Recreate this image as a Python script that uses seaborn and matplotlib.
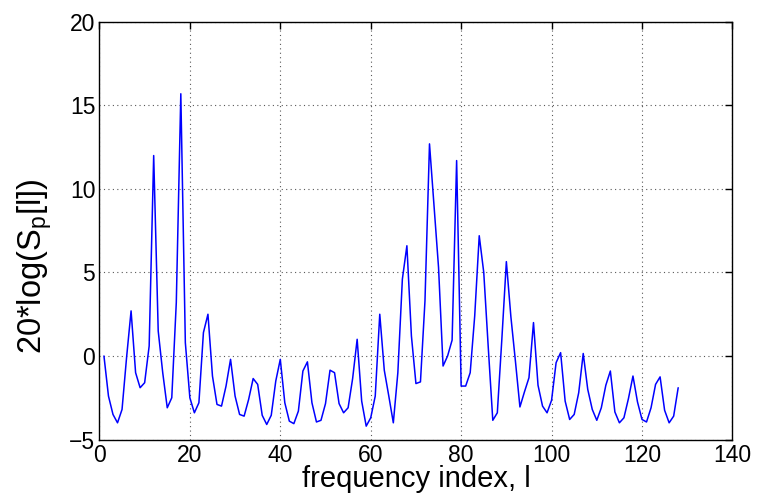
import matplotlib
matplotlib.use("Agg")
import matplotlib.pyplot as plt
import seaborn as sns
import numpy as np
import pandas as pd

freq_index = list(range(1, 129))
level_db = [
    0.0, -2.4, -3.5, -4.0, -3.2, -0.1, 2.7, -1.0, -1.9, -1.6,
    0.6, 12.0, 1.5, -1.0, -3.1, -2.5, 3.2, 15.7, 0.8, -2.5,
    -3.4, -2.8, 1.4, 2.5, -1.2, -2.9, -3.0, -1.8, -0.2, -2.4,
    -3.5, -3.6, -2.6, -1.35, -1.7, -3.55, -4.1, -3.55, -1.5, -0.2,
    -2.8, -3.9, -4.05, -3.3, -0.9, -0.35, -2.8, -3.95, -3.85, -2.85,
    -0.85, -1.0, -2.85, -3.4, -3.1, -1.35, 1.0, -2.7, -4.2, -3.7,
    -2.4, 2.5, -0.85, -2.4, -4.0, -1.0, 4.6, 6.6, 1.2, -1.65,
    -1.55, 3.3, 12.7, 9.0, 5.3, -0.6, 0.0, 0.95, 11.7, -1.8,
    -1.8, -1.0, 2.4, 7.2, 5.0, 0.5, -3.85, -3.4, 1.0, 5.65,
    2.35, -0.3, -3.05, -2.15, -1.3, 2.0, -1.75, -3.0, -3.4, -2.65,
    -0.4, 0.2, -2.7, -3.8, -3.5, -2.2, 0.15, -2.0, -3.2, -3.85,
    -3.1, -1.75, -0.9, -3.35, -4.0, -3.7, -2.55, -1.2, -2.75, -3.8,
    -3.95, -3.1, -1.7, -1.25, -3.25, -4.0, -3.6, -1.9,
]
x_ticks = [0, 20, 40, 60, 80, 100, 120, 140]
y_ticks = [-5, 0, 5, 10, 15, 20]

sns.set_style("white")
plt.rcParams['font.family'] = ['Liberation Sans', 'DejaVu Sans']
plt.rcParams['mathtext.fontset'] = 'custom'
plt.rcParams['mathtext.rm'] = 'Liberation Sans'
plt.rcParams['text.color'] = 'black'
plt.rcParams['axes.labelcolor'] = 'black'
plt.rcParams['xtick.color'] = 'black'
plt.rcParams['ytick.color'] = 'black'

df = pd.DataFrame({"l": freq_index, "S": level_db})

fig = plt.figure(figsize=(7.59, 4.93), dpi=100)
ax = fig.add_axes([0.131, 0.1085, 0.834, 0.847])
sns.lineplot(data=df, x="l", y="S", ax=ax, color=(0, 0, 1), linewidth=1.1)

ax.set_xlim(0, 140)
ax.set_ylim(-5, 20)
ax.set_xticks(x_ticks)
ax.set_yticks(y_ticks)
ax.set_xticklabels([str(t) for t in x_ticks], fontsize=16.5)
ax.set_yticklabels([("\u2212" + str(-t)) if t < 0 else str(t) for t in y_ticks], fontsize=16.5)
ax.grid(True, linestyle=(0, (1, 3)), color='0.35', linewidth=0.8)
ax.tick_params(direction='in', length=5, width=1, top=True, right=True, pad=3)
for s in ax.spines.values():
    s.set_visible(True)
    s.set_color('black')
    s.set_linewidth(1.0)
ax.set_xlabel("frequency index, l", fontsize=21, labelpad=-1)
ax.set_ylabel(r"20*log(S$_\mathrm{p}$[l])", fontsize=23.5, va='center', ha='center')
ax.yaxis.set_label_coords(-0.102, 0.415)

fig.savefig("out.png", dpi=100)
